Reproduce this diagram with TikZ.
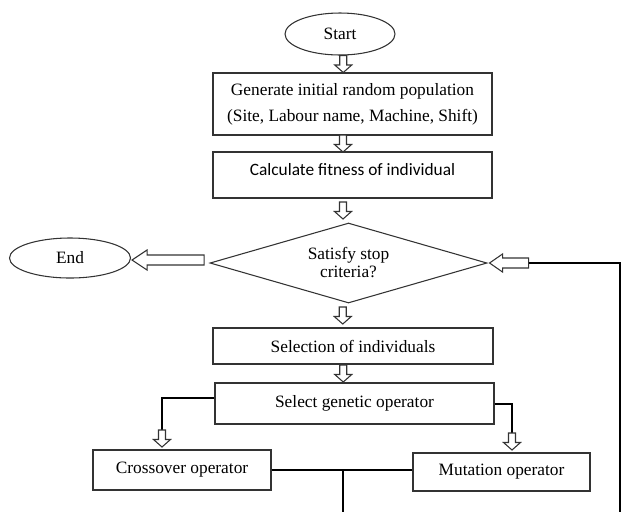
\documentclass[tikz,border=0pt]{standalone}
\usepackage{fontspec}
\setmainfont{Liberation Serif}
\newfontfamily\calfont{Carlito}
\usetikzlibrary{shapes.geometric,calc}
\begin{document}
\begin{tikzpicture}[x=0.75pt,y=-0.75pt,
  box/.style={draw=black!80, line width=0.8pt, rectangle, inner sep=0pt, align=center,
    font=\fontsize{13}{19.5}\selectfont},
  oval/.style={draw=black!80, line width=0.8pt, ellipse, inner sep=0pt,
    font=\fontsize{13}{15}\selectfont},
  conn/.style={draw=black, line width=1.5pt},
  arrline/.style={draw=black!80, line width=0.8pt, fill=white, line join=miter},
  darr/.pic={\draw[arrline] (-3.5,-8.5) -- (3.5,-8.5) -- (3.5,1) -- (8.5,1) -- (0,8.5) -- (-8.5,1) -- (-3.5,1) -- cycle;},
  larrA/.pic={\draw[arrline] (0,0) -- (15,-10) -- (15,-5) -- (72,-5) -- (72,5) -- (15,5) -- (15,10) -- cycle;},
  larrB/.pic={\draw[arrline] (0,0) -- (13,-9) -- (13,-5) -- (39,-5) -- (39,5) -- (13,5) -- (13,9) -- cycle;}
]
\useasboundingbox (0,0) rectangle (624,512);

\node[oval, minimum width=82.5pt, minimum height=31.5pt] (start) at (340,34) {Start};
\node[box, minimum width=209.25pt, minimum height=46.5pt] (gen) at (352.5,104)
  {Generate initial random population\\(Site, Labour name, Machine, Shift)};
\node[box, minimum width=209.25pt, minimum height=34.5pt, font=\calfont\fontsize{13}{15}\selectfont] (calc) at (352.5,175)
  {Calculate fitness of individual\rule[-9pt]{0pt}{0pt}};
\node[draw=black!80, line width=0.8pt, diamond, aspect=3.46, inner sep=0pt,
  minimum width=207.75pt, minimum height=60pt, align=center,
  font=\fontsize{13}{13.5}\selectfont] (dec) at (348.5,263) {Satisfy stop\\criteria?};
\node[oval, minimum width=90.75pt, minimum height=30pt] (end) at (70,258) {End};
\node[box, minimum width=210pt, minimum height=27pt] (sel) at (353,346) {Selection of individuals};
\node[box, minimum width=209.25pt, minimum height=30.75pt] (sgo) at (354.5,403.5) {Select genetic operator};
\node[box, minimum width=133.5pt, minimum height=30pt] (cross) at (182,470) {Crossover operator};
\node[box, minimum width=132.75pt, minimum height=28.5pt] (mut) at (501.5,472) {Mutation operator};

% vertical hollow arrows
\path ($(start.south)!0.5!(gen.north)$) ++(-3,0) pic {darr};
\path ($(gen.south)!0.5!(calc.north)$) ++(-9.5,0) pic {darr};
\path ($(calc.south)!0.5!(dec.north)$) ++(-7.5,0) pic {darr};
\path ($(dec.south)!0.5!(sel.north)$) ++(-8,0) pic {darr};
\path ($(sel.south)!0.5!(sgo.north)$) ++(-10.5,0) pic {darr};

% End arrow
\path (end.east) ++(1,2) pic {larrA};

% loop-back arrow
\path (dec.east) ++(2,0) pic {larrB};
\coordinate (lb) at ($(dec.east)+(41,0)$);
\coordinate (rc) at (620,263);
\coordinate (rb) at (620,512);
\draw[conn] (lb) -- (rc) -- (rb);

% genetic operator branches
\coordinate (la) at (162,430);
\coordinate (ra) at (512,433);
\draw[conn] ([yshift=4.5pt]sgo.west) -| (la);
\draw[conn] (sgo.east) -| (ra);
\path (la) ++(0,8.5) pic {darr};
\path (ra) ++(0,8.5) pic {darr};

% merge
\coordinate (jn) at (343,470);
\coordinate (bot) at (343,512);
\draw[conn] (cross.east) -- (cross.east -| mut.west);
\draw[conn] (jn) -- (bot);
\end{tikzpicture}
\end{document}
